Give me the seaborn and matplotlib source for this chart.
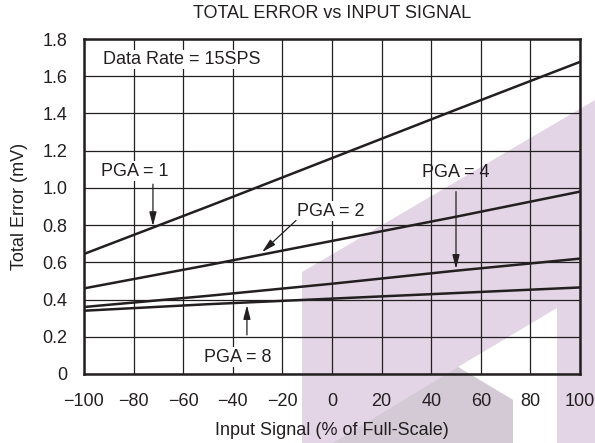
import numpy as np
import pandas as pd
import matplotlib
matplotlib.use("Agg")
import matplotlib.pyplot as plt
import seaborn as sns
from matplotlib.patches import Polygon

# values
input_signal = [-100, -50, 0, 50, 100]
pga_1 = [0.645, 0.90, 1.16, 1.42, 1.677]
pga_2 = [0.46, 0.585, 0.715, 0.845, 0.98]
pga_4 = [0.36, 0.42, 0.485, 0.555, 0.62]
pga_8 = [0.34, 0.375, 0.405, 0.435, 0.465]
x_ticks = [-100, -80, -60, -40, -20, 0, 20, 40, 60, 80, 100]
y_ticks = [0, 0.2, 0.4, 0.6, 0.8, 1.0, 1.2, 1.4, 1.6, 1.8]
y_tick_labels = ["0", "0.2", "0.4", "0.6", "0.8", "1.0", "1.2", "1.4", "1.6", "1.8"]

df = pd.concat([
    pd.DataFrame({"x": input_signal, "err": vals, "pga": name})
    for name, vals in [("1", pga_1), ("2", pga_2), ("4", pga_4), ("8", pga_8)]
])

sns.set_theme(style="white")
plt.rcParams["font.family"] = ["Liberation Sans", "DejaVu Sans"]

W, H = 595, 443
FS = 13
INK = "#231f20"
fig = plt.figure(figsize=(W / 100, H / 100), dpi=100)

# watermark shapes behind the chart (pixel coords -> figure coords)
def px(pts):
    return [(x / W, 1 - y / H) for x, y in pts]

for pts, col in [([(302, 443), (302, 272), (595, 100), (595, 443)], "#e3d5e6"),
                 ([(458, 367), (557, 308), (557, 443), (513, 443), (513, 400)], "white"),
                 ([(458, 367), (513, 400), (513, 443), (333, 443)], "#d3cad6")]:
    fig.patches.append(Polygon(px(pts), closed=True, transform=fig.transFigure,
                               facecolor=col, edgecolor="none", zorder=-1))

ax = fig.add_axes([84 / W, 1 - 374 / H, (580 - 84) / W, (374 - 39) / H])
ax.patch.set_alpha(0)

sns.lineplot(data=df, x="x", y="err", hue="pga", palette=[INK] * 4,
             legend=False, linewidth=1.8, ax=ax, zorder=3)

ax.set_xlim(-100, 100)
ax.set_ylim(0, 1.8)
ax.set_xticks(x_ticks)
ax.set_yticks(y_ticks)
ax.set_yticklabels(y_tick_labels)
ax.tick_params(axis="both", length=0, labelsize=FS, colors=INK)
ax.tick_params(axis="x", pad=14)
ax.tick_params(axis="y", pad=12)
ax.grid(True, color=INK, linewidth=0.9)
for s in ax.spines.values():
    s.set_color(INK)
    s.set_linewidth(1.8)

ax.set_xlabel("Input Signal (% of Full-Scale)", fontsize=FS, color=INK, labelpad=8)
ax.set_ylabel("Total Error (mV)", fontsize=FS, color=INK, labelpad=10)
fig.text(332 / W, 1 - 13 / H, "TOTAL ERROR vs INPUT SIGNAL", ha="center", va="center",
         fontsize=FS, color=INK)

box = dict(facecolor="white", edgecolor="none", pad=1)
ax.text(-92.5, 1.69, "Data Rate = 15SPS", fontsize=FS, va="center", color=INK, bbox=box)

arrow = dict(arrowstyle="-|>,head_length=0.7,head_width=0.18", color=INK, lw=0.9,
             shrinkA=0, shrinkB=0)
ax.text(-93, 1.09, "PGA = 1", fontsize=FS, va="center", color=INK, bbox=box)
ax.annotate("", xy=(-72.2, 0.795), xytext=(-72.2, 1.02), arrowprops=arrow, zorder=4)

ax.text(-0.5, 0.875, "PGA = 2", fontsize=FS, ha="center", va="center", color=INK, bbox=box)
ax.annotate("", xy=(-28.2, 0.655), xytext=(-14.5, 0.825), arrowprops=arrow, zorder=4)

ax.text(50, 1.085, "PGA = 4", fontsize=FS, ha="center", va="center", color=INK)
ax.annotate("", xy=(50, 0.565), xytext=(50, 0.98), arrowprops=arrow, zorder=4)

ax.text(-38, 0.09, "PGA = 8", fontsize=FS, ha="center", va="center", color=INK, bbox=box)
ax.annotate("", xy=(-34.3, 0.37), xytext=(-34.3, 0.21), arrowprops=arrow, zorder=4)

fig.savefig("out.png", dpi=100, facecolor="white")
